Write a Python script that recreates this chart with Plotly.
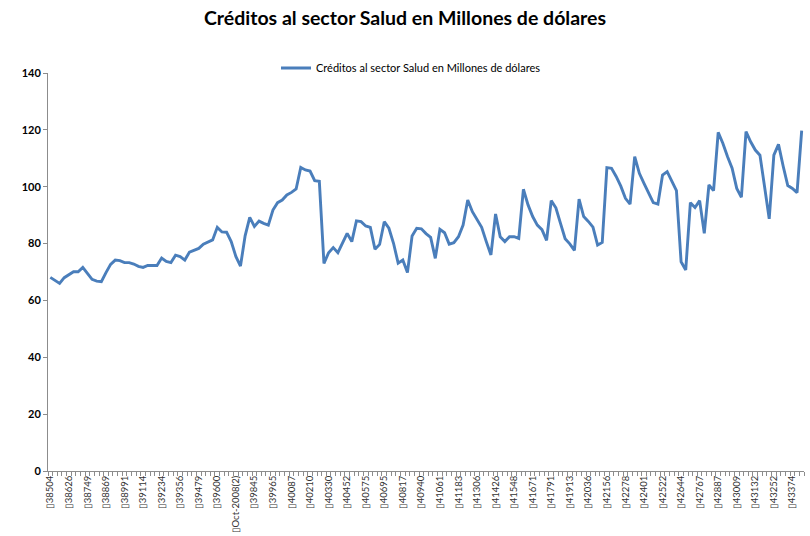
import plotly.graph_objects as go

title_text = "Créditos al sector Salud en Millones de dólares"
series_name = "Créditos al sector Salud en Millones de dólares"

values = [
    68.1, 67.0, 66.0, 68.0, 68.9, 70.1, 70.1, 71.6, 69.5, 67.4,
    66.8, 66.6, 69.8, 72.7, 74.2, 74.0, 73.3, 73.3, 72.8, 72.0,
    71.6, 72.3, 72.3, 72.3, 74.9, 73.7, 73.3, 75.9, 75.4, 74.2,
    77.0, 77.7, 78.3, 79.8, 80.5, 81.3, 85.7, 84.1, 84.0, 80.7,
    75.5, 72.1, 82.7, 89.2, 86.0, 87.9, 87.1, 86.5, 91.8, 94.4,
    95.3, 97.1, 98.0, 99.2, 106.8, 105.9, 105.5, 102.1, 101.9, 73.0,
    76.8, 78.6, 76.8, 80.3, 83.6, 80.7, 88.0, 87.7, 86.2, 85.7,
    78.0, 79.7, 87.7, 85.4, 80.1, 73.1, 74.2, 69.8, 82.7, 85.4,
    85.2, 83.5, 82.2, 74.8, 85.0, 83.8, 79.8, 80.3, 82.4, 86.5,
    95.3, 91.2, 88.3, 85.7, 80.7, 76.0, 90.4, 82.4, 80.7, 82.4,
    82.4, 81.8, 99.1, 93.6, 89.5, 86.5, 84.9, 81.1, 95.1, 92.6,
    87.1, 81.7, 79.9, 77.6, 95.6, 89.5, 87.8, 85.8, 79.5, 80.4,
    106.7, 106.5, 103.6, 100.2, 95.9, 93.9, 110.6, 104.7, 101.2, 97.9,
    94.4, 93.9, 104.1, 105.3, 102.1, 98.6, 73.6, 70.7, 94.4, 92.7,
    95.1, 83.6, 100.6, 98.6, 119.1, 115.3, 110.6, 106.5, 99.4, 96.3,
    119.4, 115.8, 112.9, 111.1, 100.0, 88.7, 111.1, 114.9, 107.3, 100.4,
    99.4, 97.9, 119.7,
]

tick_labels = [
    "38504", "38626", "38749", "38869", "38991", "39114", "39234", "39356",
    "39479", "39600", "Oct-2008(2)", "39845", "39965", "40087", "40210",
    "40330", "40452", "40575", "40695", "40817", "40940", "41061", "41183",
    "41306", "41426", "41548", "41671", "41791", "41913", "42036", "42156",
    "42278", "42401", "42522", "42644", "42767", "42887", "43009", "43132",
    "43252", "43374",
]
label_step = 4
prefix = "\u25AF"

y_ticks = [0, 20, 40, 60, 80, 100, 120, 140]

x_idx = list(range(len(values)))
tick_vals = [i * label_step for i in range(len(tick_labels))]
tick_text = [prefix + t for t in tick_labels]

FONT = "Lato, Carlito, Calibri, sans-serif"
AXIS_GRAY = "#8c8c8c"

L, R, T, B = 48, 6, 73, 65
PW = 810 - L - R
PH = 536 - T - B

fig = go.Figure()
fig.add_trace(go.Scatter(
    x=x_idx, y=values, mode="lines", name=series_name,
    line=dict(color="#4a7ebb", width=2.9),
))

fig.update_layout(
    width=810, height=536,
    margin=dict(l=L, r=R, t=T, b=B, autoexpand=False),
    paper_bgcolor="white", plot_bgcolor="white",
    font=dict(family=FONT, color="#000000"),
    title=dict(text="<b>" + title_text + "</b>", x=0.5, xanchor="center",
               y=1 - 18 / 536, yanchor="middle", yref="container",
               font=dict(size=19.5, family=FONT, color="#000000")),
    showlegend=True,
    legend=dict(orientation="h", x=(276 - L) / PW, xanchor="left",
                y=1 + 5 / PH, yanchor="middle", font=dict(size=11, family=FONT),
                bgcolor="rgba(0,0,0,0)"),
)

fig.update_xaxes(
    range=[-0.5, len(values) - 0.5], automargin=False,
    tickmode="array", tickvals=tick_vals, ticktext=tick_text,
    tickangle=-90, tickfont=dict(size=9.5, family=FONT, color="#333333"),
    showline=True, linecolor=AXIS_GRAY, linewidth=1,
    ticks="", showgrid=False, zeroline=False,
    minor=dict(ticks="outside", ticklen=4, tickcolor=AXIS_GRAY, tick0=-0.5, dtick=1, showgrid=False),
)
fig.update_yaxes(
    range=[0, 140], automargin=False, tickmode="array", tickvals=y_ticks,
    ticktext=["<b>%d</b>" % v for v in y_ticks],
    tickfont=dict(size=11, family=FONT, color="#000000"),
    showline=True, linecolor=AXIS_GRAY, linewidth=1,
    ticks="outside", ticklen=4, tickcolor=AXIS_GRAY,
    showgrid=False, zeroline=False,
)

fig.write_html("out.html", config={"displayModeBar": False},
               post_script="document.body.style.margin='0';document.body.style.padding='0';")
